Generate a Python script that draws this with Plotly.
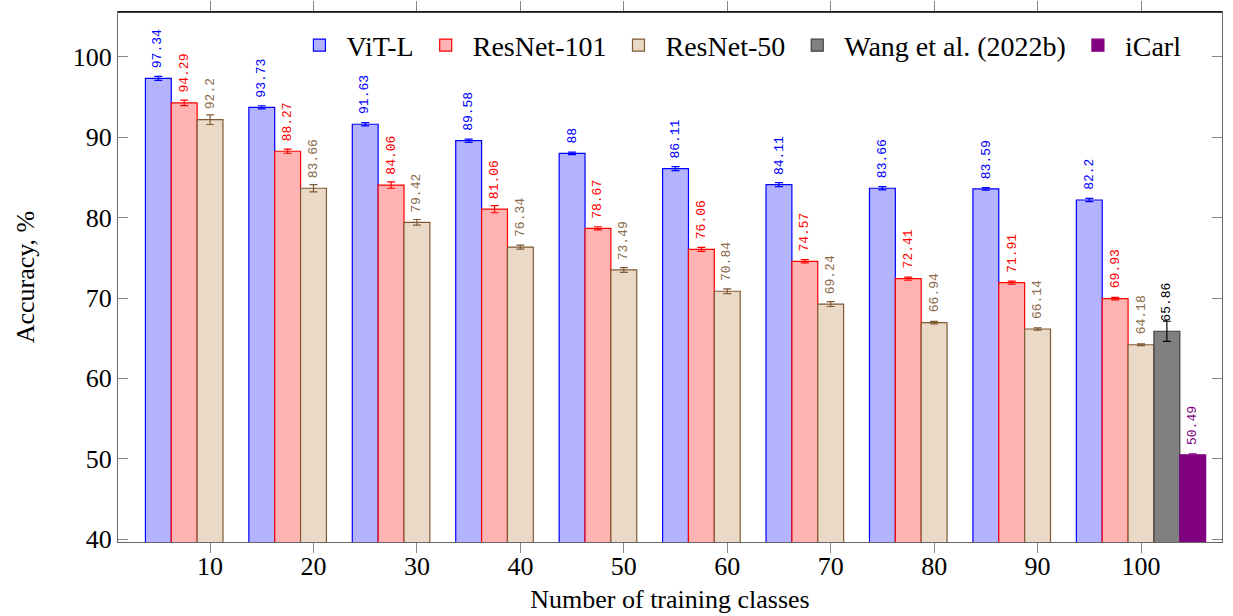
import plotly.graph_objects as go

classes = [10, 20, 30, 40, 50, 60, 70, 80, 90, 100]
vit = [97.34, 93.73, 91.63, 89.58, 88.0, 86.11, 84.11, 83.66, 83.59, 82.2]
vit_err = [0.25, 0.2, 0.2, 0.2, 0.15, 0.25, 0.25, 0.2, 0.15, 0.2]
r101 = [94.29, 88.27, 84.06, 81.06, 78.67, 76.06, 74.57, 72.41, 71.91, 69.93]
r101_err = [0.35, 0.25, 0.4, 0.45, 0.2, 0.25, 0.2, 0.2, 0.2, 0.15]
r50 = [92.2, 83.66, 79.42, 76.34, 73.49, 70.84, 69.24, 66.94, 66.14, 64.18]
r50_err = [0.6, 0.45, 0.35, 0.25, 0.3, 0.3, 0.3, 0.15, 0.15, 0.1]
wang_x = [100]
wang = [65.86]
wang_err = [1.25]
icarl_x = [100]
icarl = [50.49]
icarl_err = [0.1]

series = [
    ("ViT-L", classes, vit, vit_err, "#b3b3ff", "#0000ff", "#0000ff", "#0000ff", -2),
    ("ResNet-101", classes, r101, r101_err, "#ffb3b3", "#ff0000", "#ff0000", "#ff0000", -1),
    ("ResNet-50", classes, r50, r50_err, "#ead9c6", "#7f5a35", "#7f5a35", "#8b6b4b", 0),
    ("Wang et al. (2022b)", wang_x, wang, wang_err, "#808080", "#3f3f3f", "#000000", "#000000", 1),
    ("iCarl", icarl_x, icarl, icarl_err, "#800080", "#800080", "#800080", "#800080", 2),
]

BW = 2.5
FS = 26
fig = go.Figure()
annotations = []
for name, xs, ys, es, fill, edge, ecol, tcol, k in series:
    fig.add_trace(go.Bar(
        x=xs, y=ys, name=name, width=BW, offset=k * BW - BW / 2,
        marker=dict(color=fill, line=dict(color=edge, width=1.2)),
        error_y=dict(type="data", array=es, visible=True, color=ecol,
                     thickness=1.2, width=4),
    ))
    for x, y in zip(xs, ys):
        annotations.append(dict(
            x=x + k * BW, y=y, xref="x", yref="y", text=f"{y:g}", showarrow=False,
            textangle=-90, yanchor="bottom", xanchor="center", yshift=8,
            font=dict(family="Liberation Mono, DejaVu Sans Mono, monospace",
                      size=13, color=tcol),
        ))

shapes = [dict(type="line", xref="paper", yref="paper", x0=0, x1=1,
               y0=1, y1=1, line=dict(color="#000000", width=1.3))]

fig.update_layout(
    width=1233, height=616,
    margin=dict(l=118, r=11, t=12, b=74, autoexpand=False),
    paper_bgcolor="white", plot_bgcolor="white",
    barmode="overlay",
    font=dict(family="Liberation Serif, serif", size=FS, color="#000000"),
    annotations=annotations,
    shapes=shapes,
    showlegend=True,
    legend=dict(orientation="h", x=0.158, y=0.984, xanchor="left", yanchor="top",
                bgcolor="rgba(255,255,255,0)", font=dict(size=28),
                itemwidth=44, traceorder="normal"),
    xaxis=dict(
        range=[1.1, 107.83], tickvals=classes, ticktext=[str(c) for c in classes],
        ticks="outside", ticklen=10, tickcolor="#888888", tickwidth=1.2,
        showline=True, linecolor="#666666", linewidth=1.3, mirror="ticks",
        showgrid=False, zeroline=False, automargin=False,
        ticklabelstandoff=-9,
        title=dict(text="Number of training classes", standoff=9,
                   font=dict(size=FS)),
        tickfont=dict(size=FS),
    ),
    yaxis=dict(
        range=[39.63, 105.6], tickvals=[40, 50, 60, 70, 80, 90, 100],
        ticks="inside", ticklen=10, tickcolor="#888888", tickwidth=1.2,
        showline=True, linecolor="#666666", linewidth=1.3, mirror="ticks",
        showgrid=False, zeroline=False, automargin=False,
        title=dict(text="Accuracy, %", standoff=30, font=dict(size=FS)),
        tickfont=dict(size=FS),
    ),
)

fig.write_html("out.html")
